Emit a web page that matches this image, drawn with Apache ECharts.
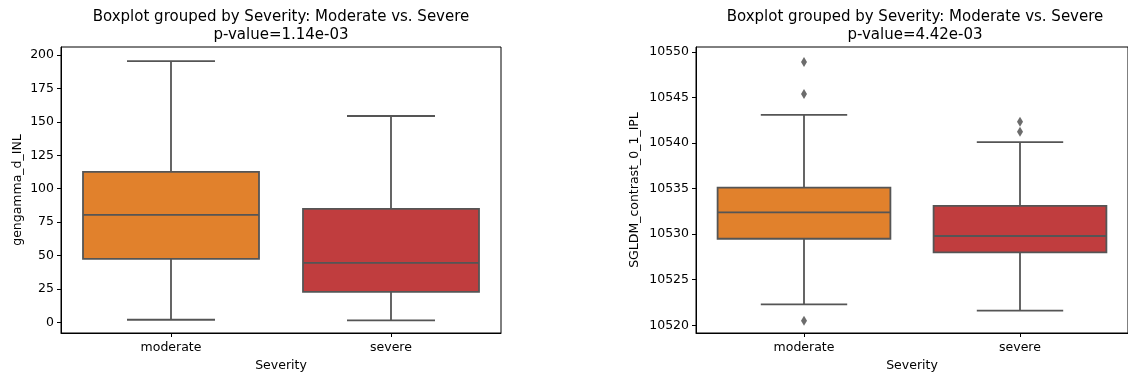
<!DOCTYPE html>
<html>
<head>
<meta charset="utf-8">
<script src="https://cdn.jsdelivr.net/npm/echarts@6/dist/echarts.min.js"></script>
<style>
  html, body { margin: 0; padding: 0; background: #fff; overflow: hidden; }
  #chart { width: 1128px; height: 377px; }
</style>
</head>
<body>
<div id="chart"></div>
<script>
// Groups on the x axis
const categories = ['moderate', 'severe'];

// gengamma_d_INL box statistics: [lower whisker, Q1, median, Q3, upper whisker]
const inlModerate = [2.0, 47.6, 80.5, 112.6, 195.5];
const inlSevere = [1.5, 22.9, 44.6, 84.9, 154.4];

// SGLDM_contrast_0_1_IPL box statistics: [lower whisker, Q1, median, Q3, upper whisker]
const iplModerate = [10522.3, 10529.5, 10532.4, 10535.1, 10543.1];
const iplSevere = [10521.6, 10528.0, 10529.8, 10533.1, 10540.1];

// Points beyond the whiskers
const iplModerateOutliers = [10548.9, 10545.4, 10520.5];
const iplSevereOutliers = [10542.35, 10541.25];

// Panel titles and axis names
const titleLine = 'Boxplot grouped by Severity: Moderate vs. Severe';
const pValues = ['p-value=1.14e-03', 'p-value=4.42e-03'];
const yNames = ['gengamma_d_INL', 'SGLDM_contrast_0_1_IPL'];
const xName = 'Severity';

const ORANGE = '#e1812c';
const RED = '#c03d3e';
const EDGE = '#555555';
const FONT = 'DejaVu Sans';

const chart = echarts.init(document.getElementById('chart'), null, { renderer: 'canvas' });

// Draws one seaborn-style box: filled IQR box, median bar, whiskers with half-width caps
function renderBox(params, api) {
  const x = api.value(0);
  const lo = api.coord([x, api.value(1)]);
  const q1 = api.coord([x, api.value(2)]);
  const med = api.coord([x, api.value(3)]);
  const q3 = api.coord([x, api.value(4)]);
  const hi = api.coord([x, api.value(5)]);
  const bw = api.size([1, 0])[0] * 0.8;
  const cx = lo[0];
  const line = { stroke: EDGE, lineWidth: 1.8 };
  return {
    type: 'group',
    children: [
      { type: 'line', shape: { x1: cx, y1: q3[1], x2: cx, y2: hi[1] }, style: line },
      { type: 'line', shape: { x1: cx, y1: q1[1], x2: cx, y2: lo[1] }, style: line },
      { type: 'line', shape: { x1: cx - bw / 4, y1: hi[1], x2: cx + bw / 4, y2: hi[1] }, style: line },
      { type: 'line', shape: { x1: cx - bw / 4, y1: lo[1], x2: cx + bw / 4, y2: lo[1] }, style: line },
      {
        type: 'rect',
        shape: { x: cx - bw / 2, y: q3[1], width: bw, height: q1[1] - q3[1] },
        style: { fill: api.visual('color'), stroke: EDGE, lineWidth: 1.8 }
      },
      { type: 'line', shape: { x1: cx - bw / 2, y1: med[1], x2: cx + bw / 2, y2: med[1] }, style: line }
    ]
  };
}

function boxItems(moderate, severe) {
  return [
    { value: [0].concat(moderate), itemStyle: { color: ORANGE } },
    { value: [1].concat(severe), itemStyle: { color: RED } }
  ];
}

function outlierPoints(cat, values) {
  return values.map(v => [cat, v]);
}

const textStyle = { color: '#000', fontFamily: FONT, fontSize: 12.5 };

function xAxisFor(gridIndex) {
  return {
    type: 'category',
    gridIndex: gridIndex,
    data: categories,
    boundaryGap: true,
    name: xName,
    nameLocation: 'middle',
    nameGap: 26,
    nameTextStyle: textStyle,
    axisLine: { show: true, onZero: false, lineStyle: { color: '#000', width: 1 } },
    axisTick: { show: true, alignWithLabel: true, length: 4, lineStyle: { color: '#000', width: 1 } },
    axisLabel: Object.assign({ margin: 8 }, textStyle),
    splitLine: { show: false }
  };
}

function yAxisFor(gridIndex, min, max, step, nameGap) {
  return {
    type: 'value',
    gridIndex: gridIndex,
    min: min,
    max: max,
    minInterval: step,
    maxInterval: step,
    name: yNames[gridIndex],
    nameLocation: 'middle',
    nameGap: nameGap,
    nameTextStyle: textStyle,
    axisLine: { show: true, onZero: false, lineStyle: { color: '#000', width: 1 } },
    axisTick: { show: true, length: 4, lineStyle: { color: '#000', width: 1 } },
    axisLabel: Object.assign({
      margin: 7,
      showMinLabel: false,
      showMaxLabel: false,
      formatter: v => String(v)
    }, textStyle),
    splitLine: { show: false }
  };
}

function titleText(cx, sub) {
  return {
    type: 'text',
    x: cx,
    y: 26.5,
    style: {
      text: titleLine + '\n' + sub,
      align: 'center',
      verticalAlign: 'middle',
      fontFamily: FONT,
      fontSize: 15,
      lineHeight: 18,
      fill: '#000'
    }
  };
}

chart.setOption({
  animation: false,
  backgroundColor: '#fff',
  grid: [
    { left: 61, top: 47, width: 440, height: 286, show: true, borderColor: '#000', borderWidth: 1, backgroundColor: 'transparent' },
    // the second panel runs past the right edge of the canvas
    { left: 696, top: 47, width: 437, height: 286, show: true, borderColor: '#000', borderWidth: 1, backgroundColor: 'transparent' }
  ],
  graphic: [titleText(281, pValues[0]), titleText(915, pValues[1])],
  xAxis: [xAxisFor(0), xAxisFor(1)],
  yAxis: [
    yAxisFor(0, -7.9, 206, 25, 37),
    yAxisFor(1, 10519.15, 10550.55, 5, 55)
  ],
  series: [
    {
      type: 'custom',
      xAxisIndex: 0,
      yAxisIndex: 0,
      renderItem: renderBox,
      encode: { x: 0, y: [1, 2, 3, 4, 5] },
      data: boxItems(inlModerate, inlSevere)
    },
    {
      type: 'custom',
      xAxisIndex: 1,
      yAxisIndex: 1,
      renderItem: renderBox,
      encode: { x: 0, y: [1, 2, 3, 4, 5] },
      data: boxItems(iplModerate, iplSevere)
    },
    {
      type: 'scatter',
      xAxisIndex: 1,
      yAxisIndex: 1,
      symbol: 'diamond',
      symbolSize: [6, 10],
      itemStyle: { color: '#474747' },
      data: outlierPoints('moderate', iplModerateOutliers).concat(outlierPoints('severe', iplSevereOutliers)),
      z: 5
    }
  ]
});
</script>
</body>
</html>
